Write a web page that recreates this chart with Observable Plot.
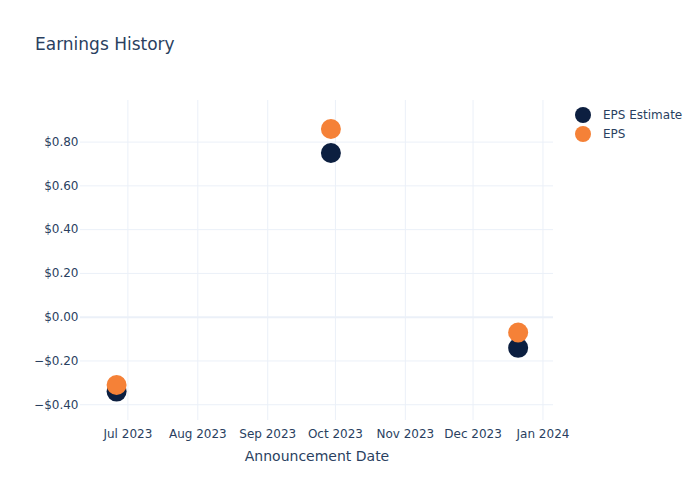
<!DOCTYPE html>
<html>
<head>
<meta charset="utf-8">
<script src="https://cdn.jsdelivr.net/npm/d3@7"></script>
<script src="https://cdn.jsdelivr.net/npm/@observablehq/plot@0.6"></script>
<style>
  html, body { margin: 0; padding: 0; background: #fff; }
  #wrap { position: relative; width: 700px; height: 500px; font-family: "DejaVu Sans", verdana, arial, sans-serif; color: #2a3f5f; }
  #title { position: absolute; left: 35px; top: 32px; font-size: 17px; line-height: 24px; white-space: nowrap; }
  #legend { position: absolute; left: 575px; top: 105px; font-size: 12px; }
  .item { display: flex; align-items: center; height: 19px; }
  .dot { width: 16px; height: 16px; border-radius: 50%; margin-right: 12px; }
  #chart { position: absolute; left: 0; top: 0; }
</style>
</head>
<body>
<div id="wrap">
  <div id="chart"></div>
  <div id="title">Earnings History</div>
  <div id="legend"></div>
</div>
<script>
const dates = ["2023-06-26", "2023-09-29", "2023-12-21"];
const epsEstimate = [-0.34, 0.75, -0.14];
const eps = [-0.31, 0.86, -0.07];
const seriesNames = ["EPS Estimate", "EPS"];
const seriesColors = ["#0c1f40", "#f58137"];
const xTicks = ["2023-07-01", "2023-08-01", "2023-09-01", "2023-10-01", "2023-11-01", "2023-12-01", "2024-01-01"];
const yTicks = [-0.4, -0.2, 0, 0.2, 0.4, 0.6, 0.8];

const parse = d3.utcParse("%Y-%m-%d");
const rows = [];
dates.forEach((d, i) => rows.push({date: parse(d), value: epsEstimate[i], series: seriesNames[0]}));
dates.forEach((d, i) => rows.push({date: parse(d), value: eps[i], series: seriesNames[1]}));

const fmtY = d => (d < 0 ? "\u2212" : "") + "$" + Math.abs(d).toFixed(2);
const fmtX = d3.utcFormat("%b %Y");
const grid = "#ebf0f8";
const font = '"DejaVu Sans", verdana, arial, sans-serif';

const chart = Plot.plot({
  width: 700,
  height: 500,
  marginLeft: 80,
  marginRight: 147,
  marginTop: 100,
  marginBottom: 80,
  style: {fontFamily: font, fontSize: "12px", color: "#2a3f5f", background: "#fff"},
  x: {type: "utc", domain: [parse("2023-06-10"), new Date(Date.UTC(2024, 0, 5, 16))], ticks: xTicks.map(parse), tickFormat: fmtX, label: null},
  y: {domain: [-0.472, 0.99], ticks: yTicks, tickFormat: fmtY, label: null},
  color: {domain: seriesNames, range: seriesColors},
  marks: [
    Plot.gridX(xTicks.map(parse), {stroke: grid, strokeOpacity: 1}),
    Plot.gridY(yTicks.filter(d => d !== 0), {stroke: grid, strokeOpacity: 1}),
    Plot.ruleY([0], {stroke: grid, strokeWidth: 2}),
    Plot.axisX(xTicks.map(parse), {tickSize: 0, tickPadding: 9, tickFormat: fmtX, fill: "#2a3f5f", fontSize: 12}),
    Plot.axisY(yTicks, {tickSize: 0, tickPadding: 2, tickFormat: fmtY, fill: "#2a3f5f", fontSize: 12}),
    Plot.dot(rows, {x: "date", y: "value", fill: "series", r: 10, stroke: null}),
    Plot.text(["Announcement Date"], {frameAnchor: "bottom", dy: 40, fill: "#2a3f5f", fontSize: 14, textAnchor: "middle"})
  ]
});
document.getElementById("chart").appendChild(chart);

const legend = document.getElementById("legend");
seriesNames.forEach((name, i) => {
  const item = document.createElement("div");
  item.className = "item";
  const dot = document.createElement("div");
  dot.className = "dot";
  dot.style.background = seriesColors[i];
  const label = document.createElement("span");
  label.textContent = name;
  item.appendChild(dot);
  item.appendChild(label);
  legend.appendChild(item);
});
</script>
</body>
</html>
